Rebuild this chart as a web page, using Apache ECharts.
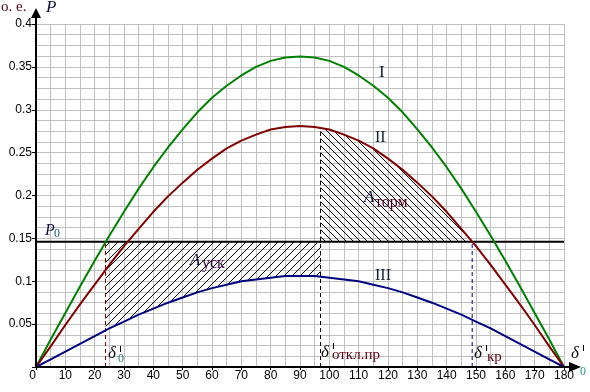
<!DOCTYPE html>
<html><head><meta charset="utf-8">
<script src="https://cdn.jsdelivr.net/npm/echarts@6/dist/echarts.min.js"></script>
<style>html,body{margin:0;padding:0;background:#fff}#c{width:590px;height:392px}</style>
</head><body><div id="c"></div>
<script>
// ---- data ----
const angles = [0,5,10,15,20,25,30,35,40,45,50,55,60,65,70,75,80,85,90,95,100,105,110,115,120,125,130,135,140,145,150,155,160,165,170,175,180];
const curveI = [0,0.032,0.063,0.094,0.124,0.153,0.181,0.208,0.233,0.256,0.277,0.297,0.314,0.328,0.340,0.350,0.357,0.361,0.362,0.361,0.357,0.350,0.340,0.328,0.314,0.297,0.277,0.256,0.233,0.208,0.181,0.153,0.124,0.094,0.063,0.032,0];
const curveII = [0,0.024,0.049,0.073,0.096,0.119,0.141,0.161,0.181,0.199,0.215,0.230,0.243,0.255,0.264,0.271,0.277,0.280,0.281,0.280,0.277,0.271,0.264,0.255,0.243,0.230,0.215,0.199,0.181,0.161,0.141,0.119,0.096,0.073,0.049,0.024,0];
const curveIII = [0,0.009,0.018,0.027,0.036,0.045,0.053,0.061,0.068,0.075,0.081,0.087,0.092,0.096,0.100,0.102,0.104,0.106,0.106,0.106,0.104,0.102,0.100,0.096,0.092,0.087,0.081,0.075,0.068,0.061,0.053,0.045,0.036,0.027,0.018,0.009,0];
const P0 = 0.146;
const delta0 = 23.7;
const deltaOff = 97;
const deltaKr = 148.7;
const xRange = [0, 180, 10];
const yRange = [0, 0.4, 0.05];

function pairs(arr){ return angles.map((a,i)=>[a,arr[i]]); }
function interp(arr, xv){
  for (let i=0;i<angles.length-1;i++){
    if (xv>=angles[i] && xv<=angles[i+1]){
      const t=(xv-angles[i])/(angles[i+1]-angles[i]);
      return arr[i]+t*(arr[i+1]-arr[i]);
    }
  }
  return arr[arr.length-1];
}
function hatch(size, dir){
  const c=document.createElement('canvas'); c.width=size; c.height=size;
  const g=c.getContext('2d'); g.strokeStyle='#000'; g.lineWidth=1; g.beginPath();
  if (dir>0){
    for (const o of [-size,0,size]){ g.moveTo(o, size); g.lineTo(o+size, 0); }
  } else {
    for (const o of [-size,0,size]){ g.moveTo(o, 0); g.lineTo(o+size, size); }
  }
  g.stroke(); return c;
}
const patUsk = hatch(8, 1);
const patTorm = hatch(7, -1);

function areaSeries(curve, x0, x1, pat){
  return {
    type:'custom', coordinateSystem:'cartesian2d', data:[[x0,P0]], silent:true, z:1,
    renderItem:(params, api)=>{
      const pts=[api.coord([x0, interp(curve,x0)])];
      angles.forEach((a,i)=>{ if(a>x0 && a<x1) pts.push(api.coord([a,curve[i]])); });
      pts.push(api.coord([x1, interp(curve,x1)]));
      pts.push(api.coord([x1,P0]));
      pts.push(api.coord([x0,P0]));
      return {type:'polygon', shape:{points:pts}, style:{fill:{image:pat, repeat:'repeat'}, stroke:null}};
    }
  };
}
function lineS(data, color, width, type, z){
  return {type:'line', data, symbol:'none', silent:true, z:z||3, animation:false,
    lineStyle:{color, width, type:type||'solid'}};
}

const serif = '"Liberation Serif","Times New Roman",serif';
function txt(x,y,text,size,color,italic){
  return {type:'text', x, y, z:100, silent:true,
    style:{text, font:(italic?'italic ':'')+size+'px '+serif, fill:color, align:'left', verticalAlign:'top'}};
}
function vbar(x,y1,y2){
  return {type:'line', z:100, silent:true, shape:{x1:x,y1:y1,x2:x,y2:y2}, style:{stroke:'#000', lineWidth:1}};
}

const L=36, T=24, W=528, H=343;
const chart = echarts.init(document.getElementById('c'), null, {renderer:'canvas'});
chart.setOption({
  animation:false,
  backgroundColor:'#fff',
  grid:{left:L, top:T, width:W, height:H},
  xAxis:{type:'value', min:xRange[0], max:xRange[1], interval:xRange[2],
    axisLine:{show:false},
    axisTick:{show:true, length:3, lineStyle:{color:'#000'}},
    minorTick:{show:false, splitNumber:2},
    minorSplitLine:{show:true, lineStyle:{color:'#c0c0c0', width:1}},
    splitLine:{show:true, lineStyle:{color:'#c0c0c0', width:1}},
    axisLabel:{color:'#000', fontSize:12, fontFamily:'"Liberation Sans",Arial,sans-serif', margin:3,
      formatter:v=> v===0 ? '{z|0}' : String(v),
      rich:{z:{fontSize:12, fontFamily:'"Liberation Sans",Arial,sans-serif', color:'#000', padding:[0,7,0,0]}}}
  },
  yAxis:{type:'value', min:yRange[0], max:yRange[1], interval:yRange[2],
    axisLine:{show:false},
    axisTick:{show:true, length:4, lineStyle:{color:'#000'}},
    minorTick:{show:false, splitNumber:4},
    minorSplitLine:{show:true, lineStyle:{color:'#c0c0c0', width:1}},
    splitLine:{show:true, lineStyle:{color:'#c0c0c0', width:1}},
    axisLabel:{color:'#000', fontSize:12, fontFamily:'"Liberation Sans",Arial,sans-serif', margin:4,
      formatter:v=> v===0 ? '' : String(+v.toFixed(2))}
  },
  series:[
    areaSeries(curveIII, delta0, deltaOff, patUsk),
    areaSeries(curveII, deltaOff, deltaKr, patTorm),
    lineS([[delta0,0],[delta0,P0]], '#800000', 1, [4,3], 2),
    lineS([[deltaOff,0],[deltaOff,interp(curveII,deltaOff)]], '#000', 1, [4,3], 2),
    lineS([[deltaKr,0],[deltaKr,P0]], '#000080', 1, [4,3], 2),
    lineS([[0,P0],[180,P0]], '#000', 2, 'solid', 4),
    lineS(pairs(curveI), '#008000', 2, 'solid', 5),
    lineS(pairs(curveII), '#800000', 2, 'solid', 5),
    lineS(pairs(curveIII), '#000080', 2, 'solid', 5)
  ],
  graphic:[
    {type:'line', z:90, silent:true, shape:{x1:L, y1:T+H, x2:L+W+8, y2:T+H}, style:{stroke:'#000', lineWidth:2}},
    {type:'polygon', z:90, silent:true, shape:{points:[[L+W+17,T+H],[L+W+5,T+H-5],[L+W+5,T+H+5]]}, style:{fill:'#000'}},
    {type:'line', z:90, silent:true, shape:{x1:L, y1:T+H, x2:L, y2:14}, style:{stroke:'#000', lineWidth:2}},
    {type:'polygon', z:90, silent:true, shape:{points:[[L,8],[L-5,18],[L+5,18]]}, style:{fill:'#000'}},
    txt(1,0,'о. е.',15,'#600020',false),
    txt(46,-1,'P',17,'#101040',true),
    txt(45,223,'P',16,'#101040',true),
    txt(54,228,'0',12,'#205868',false),
    txt(379,64,'I',17,'#102030',false),
    txt(375,130,'II',16,'#102030',false),
    txt(375,268,'III',16,'#102030',false),
    txt(190,252,'A',17,'#101040',true),
    txt(202,256,'уск',16,'#400050',false),
    txt(364,189,'A',17,'#101040',true),
    txt(375,195,'торм',16,'#500020',false),
    txt(108,345,'δ',17,'#101010',true),
    vbar(120.5,346,352),
    txt(118,353,'0',12,'#307070',false),
    txt(321,344,'δ',17,'#101010',true),
    vbar(333.5,343,349),
    txt(332,348,'откл.пр',15,'#600010',false),
    txt(474,345,'δ',17,'#101010',true),
    vbar(486.5,345,351),
    txt(487,350,'кр',15,'#600010',false),
    txt(571,345,'δ',17,'#101010',true),
    vbar(583.5,345,351),
    txt(580,366,'0',12,'#309090',false)
  ]
});
</script></body></html>
